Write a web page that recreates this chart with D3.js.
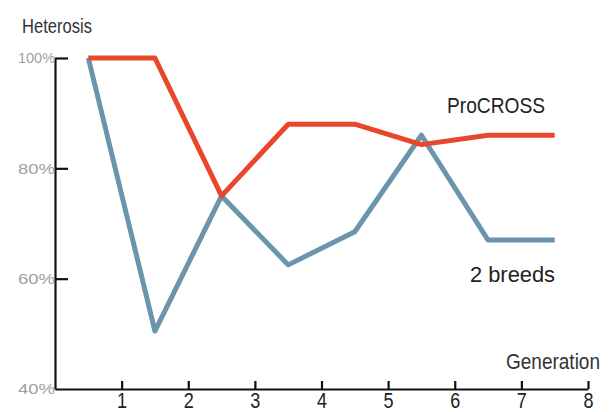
<!DOCTYPE html>
<html>
<head>
<meta charset="utf-8">
<script src="https://cdn.jsdelivr.net/npm/d3@7"></script>
<style>
  body { margin: 0; background: #fff; }
  text { font-family: "Liberation Sans", Arial, sans-serif; }
</style>
</head>
<body>
<script>
const width = 615
const height = 412

// generations are plotted at the middle of each interval
const generations = [0.5, 1.5, 2.5, 3.5, 4.5, 5.5, 6.5, 7.5]
const procross = [100, 100, 75, 88, 88, 84.3, 86, 86]
const twoBreeds = [100, 50.5, 75, 62.5, 68.5, 86, 67, 67]
const xTicks = [1, 2, 3, 4, 5, 6, 7, 8]
const yTicks = [40, 60, 80, 100]

const x = d3.scaleLinear().domain([0, 8]).range([55, 588])
const y = d3.scaleLinear().domain([40, 100]).range([389, 58])

const svg = d3.select('body').append('svg').attr('width', width).attr('height', height)

// y axis, ticks pointing inward
const yAxis = svg.append('g')
  .attr('transform', `translate(${x(0)},0)`)
  .call(d3.axisLeft(y).tickValues(yTicks).tickSize(-13).tickSizeOuter(0).tickPadding(0).tickFormat(d => d + '%'))
yAxis.select('.domain').attr('stroke', '#111').attr('stroke-width', 2.2)
yAxis.selectAll('.tick line').attr('stroke', '#111').attr('stroke-width', 2.2)
yAxis.selectAll('.tick').filter(d => d === 40).select('line').remove()
yAxis.selectAll('.tick text')
  .attr('font-size', 15)
  .attr('fill', '#a0a0a0')
  .attr('textLength', 37)
  .attr('lengthAdjust', 'spacingAndGlyphs')
  .style('font-family', '"Liberation Sans", Arial, sans-serif')

// x axis, ticks pointing up
const xAxis = svg.append('g')
  .attr('transform', `translate(0,${y(40)})`)
  .call(d3.axisBottom(x).tickValues(xTicks).tickSize(-8).tickSizeOuter(0).tickPadding(3))
xAxis.select('.domain').attr('stroke', '#111').attr('stroke-width', 2.2)
xAxis.selectAll('.tick line').attr('stroke', '#111').attr('stroke-width', 2.2)
xAxis.selectAll('.tick text')
  .attr('font-size', 22)
  .attr('fill', '#222')
  .attr('transform', 'scale(0.82,1)')
  .style('font-family', '"Liberation Sans", Arial, sans-serif')

const line = d3.line().x(d => x(d[0])).y(d => y(d[1]))

svg.append('path')
  .datum(d3.zip(generations, twoBreeds))
  .attr('d', line)
  .attr('fill', 'none')
  .attr('stroke', '#6b95ad')
  .attr('stroke-width', 5)
  .attr('stroke-linejoin', 'round')

svg.append('path')
  .datum(d3.zip(generations, procross))
  .attr('d', line)
  .attr('fill', 'none')
  .attr('stroke', '#e8472b')
  .attr('stroke-width', 5)
  .attr('stroke-linejoin', 'round')

function label(txt, lx, ly, size, len, fill) {
  svg.append('text')
    .attr('x', lx).attr('y', ly)
    .attr('font-size', size)
    .attr('fill', fill)
    .attr('textLength', len)
    .attr('lengthAdjust', 'spacingAndGlyphs')
    .text(txt)
}

label('Heterosis', 22, 33, 21, 70, '#333')
label('Generation', 506, 369, 22, 94, '#333')
label('ProCROSS', 447, 113, 22, 98, '#222')
label('2 breeds', 470, 282, 22, 85, '#222')
</script>
</body>
</html>
